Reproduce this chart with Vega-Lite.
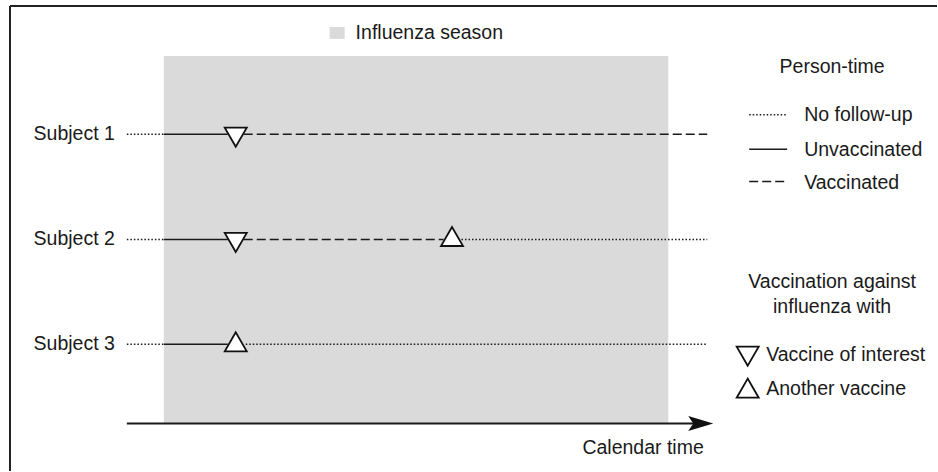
{
  "$schema": "https://vega.github.io/schema/vega-lite/v6.json",
  "width": 938,
  "height": 472,
  "autosize": {"type": "fit", "contains": "padding"},
  "padding": 0,
  "background": "white",
  "view": {"stroke": null},
  "config": {"font": "Liberation Sans"},
  "datasets": {
    "frame": [
      {"x": 10, "x2": 938, "y": 6, "y2": 6},
      {"x": 10, "x2": 10, "y": 6, "y2": 472}
    ],
    "boxes": [
      {"name": "season", "x": 164, "x2": 669, "y": 56, "y2": 424},
      {"name": "swatch", "x": 330, "x2": 345, "y": 27, "y2": 39}
    ],
    "segments": [
      {"row": "Subject 1", "status": "No follow-up", "x": 127, "x2": 164, "y": 134.5},
      {"row": "Subject 1", "status": "Unvaccinated", "x": 164, "x2": 228, "y": 134.5},
      {"row": "Subject 1", "status": "Vaccinated", "x": 244, "x2": 708, "y": 134.5},
      {"row": "Subject 2", "status": "No follow-up", "x": 127, "x2": 164, "y": 240},
      {"row": "Subject 2", "status": "Unvaccinated", "x": 164, "x2": 228, "y": 240},
      {"row": "Subject 2", "status": "Vaccinated", "x": 244, "x2": 444, "y": 240},
      {"row": "Subject 2", "status": "No follow-up", "x": 462, "x2": 708, "y": 240},
      {"row": "Subject 3", "status": "No follow-up", "x": 127, "x2": 164, "y": 345},
      {"row": "Subject 3", "status": "Unvaccinated", "x": 164, "x2": 228, "y": 345},
      {"row": "Subject 3", "status": "No follow-up", "x": 246, "x2": 708, "y": 345},
      {"row": "legend", "status": "No follow-up", "x": 750, "x2": 788, "y": 115},
      {"row": "legend", "status": "Unvaccinated", "x": 750, "x2": 788, "y": 149.5},
      {"row": "legend", "status": "Vaccinated", "x": 750, "x2": 788, "y": 182}
    ],
    "axisline": [
      {"x": 127, "x2": 700, "y": 424.5}
    ],
    "arrow": [
      {"x": 701.5, "y": 424.5}
    ],
    "marks": [
      {"row": "Subject 1", "vaccine": "Vaccine of interest", "x": 236, "y": 137.5},
      {"row": "Subject 2", "vaccine": "Vaccine of interest", "x": 236, "y": 243},
      {"row": "Subject 2", "vaccine": "Another vaccine", "x": 452.5, "y": 237},
      {"row": "Subject 3", "vaccine": "Another vaccine", "x": 236, "y": 342.5},
      {"row": "legend", "vaccine": "Vaccine of interest", "x": 748.5, "y": 357},
      {"row": "legend", "vaccine": "Another vaccine", "x": 748.5, "y": 389}
    ],
    "rightText": [
      {"text": "Subject 1", "x": 115, "y": 134.5},
      {"text": "Subject 2", "x": 115, "y": 240},
      {"text": "Subject 3", "x": 115, "y": 345}
    ],
    "leftText": [
      {"text": "Influenza season", "x": 356, "y": 33},
      {"text": "No follow-up", "x": 805, "y": 115},
      {"text": "Unvaccinated", "x": 805, "y": 150},
      {"text": "Vaccinated", "x": 805, "y": 183},
      {"text": "Vaccine of interest", "x": 767, "y": 356},
      {"text": "Another vaccine", "x": 767, "y": 390},
      {"text": "Calendar time", "x": 583, "y": 449}
    ],
    "centerText": [
      {"text": "Person-time", "x": 833, "y": 67},
      {"text": "Vaccination against", "x": 833, "y": 283},
      {"text": "influenza with", "x": 833, "y": 308}
    ]
  },
  "layer": [
    {
      "data": {"name": "boxes"},
      "mark": {"type": "rect", "fill": "#dadada"},
      "encoding": {
        "x": {"field": "x", "type": "quantitative", "scale": {"domain": [0, 938], "nice": false, "zero": false}, "axis": null},
        "x2": {"field": "x2"},
        "y": {"field": "y", "type": "quantitative", "scale": {"domain": [472, 0], "nice": false, "zero": false}, "axis": null},
        "y2": {"field": "y2"}
      }
    },
    {
      "data": {"name": "frame"},
      "mark": {"type": "rule", "stroke": "#222222", "strokeWidth": 2},
      "encoding": {
        "x": {"field": "x", "type": "quantitative"},
        "x2": {"field": "x2"},
        "y": {"field": "y", "type": "quantitative"},
        "y2": {"field": "y2"}
      }
    },
    {
      "data": {"name": "segments"},
      "mark": {"type": "rule", "stroke": "#1a1a1a", "strokeWidth": 1.5},
      "encoding": {
        "x": {"field": "x", "type": "quantitative"},
        "x2": {"field": "x2"},
        "y": {"field": "y", "type": "quantitative"},
        "strokeDash": {
          "field": "status",
          "type": "nominal",
          "scale": {"domain": ["No follow-up", "Unvaccinated", "Vaccinated"], "range": [[1.5, 2], [1, 0], [9, 4]]},
          "legend": null
        }
      }
    },
    {
      "data": {"name": "axisline"},
      "mark": {"type": "rule", "stroke": "#1a1a1a", "strokeWidth": 2},
      "encoding": {
        "x": {"field": "x", "type": "quantitative"},
        "x2": {"field": "x2"},
        "y": {"field": "y", "type": "quantitative"}
      }
    },
    {
      "data": {"name": "arrow"},
      "mark": {"type": "point", "shape": "M1,0 L-1,-0.6 L-0.6,0 L-1,0.6 Z", "size": 625, "filled": true, "fill": "#111111", "stroke": null, "opacity": 1},
      "encoding": {
        "x": {"field": "x", "type": "quantitative"},
        "y": {"field": "y", "type": "quantitative"}
      }
    },
    {
      "data": {"name": "marks"},
      "mark": {"type": "point", "filled": false, "fill": "white", "fillOpacity": 1, "stroke": "#111111", "strokeWidth": 1.8, "size": 484, "opacity": 1},
      "encoding": {
        "x": {"field": "x", "type": "quantitative"},
        "y": {"field": "y", "type": "quantitative"},
        "shape": {
          "field": "vaccine",
          "type": "nominal",
          "scale": {"domain": ["Vaccine of interest", "Another vaccine"], "range": ["triangle-down", "triangle-up"]},
          "legend": null
        }
      }
    },
    {
      "data": {"name": "rightText"},
      "mark": {"type": "text", "align": "right", "baseline": "middle", "fontSize": 19.5, "color": "#1a1a1a"},
      "encoding": {
        "x": {"field": "x", "type": "quantitative"},
        "y": {"field": "y", "type": "quantitative"},
        "text": {"field": "text"}
      }
    },
    {
      "data": {"name": "leftText"},
      "mark": {"type": "text", "align": "left", "baseline": "middle", "fontSize": 19.5, "color": "#1a1a1a"},
      "encoding": {
        "x": {"field": "x", "type": "quantitative"},
        "y": {"field": "y", "type": "quantitative"},
        "text": {"field": "text"}
      }
    },
    {
      "data": {"name": "centerText"},
      "mark": {"type": "text", "align": "center", "baseline": "middle", "fontSize": 19.5, "color": "#1a1a1a"},
      "encoding": {
        "x": {"field": "x", "type": "quantitative"},
        "y": {"field": "y", "type": "quantitative"},
        "text": {"field": "text"}
      }
    }
  ]
}
